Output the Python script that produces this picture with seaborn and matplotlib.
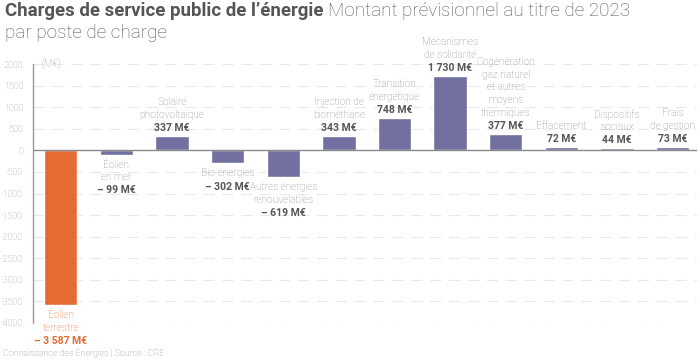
import pandas as pd
import seaborn as sns
import matplotlib.pyplot as plt

##############
#### DATA ####
##############

categories = ['Éolien\nterrestre', 'Éolien\nen mer', 'Solaire\nphotovoltaïque', 'Bio-énergies',
              'Autres énergies\nrenouvelables', 'Injection de\nbiométhane', 'Transition\nénergétique',
              'Mécanismes\nde solidarité', 'Cogénération\ngaz naturel\net autres\nmoyens\nthermiques',
              'Effacement', 'Dispositifs\nsociaux', 'Frais\nde gestion']
values = [-3587, -99, 337, -302, -619, 343, 748, 1730, 377, 72, 44, 73]
yticks = list(range(-4000, 2001, 500))

df = pd.DataFrame({'cat': categories, 'val': values})

ORANGE = '#E56B34'
PURPLE = '#7170A0'
colors = [ORANGE] + [PURPLE] * (len(categories) - 1)

###############
#### STYLE ####
###############

sns.set_theme(style='white')
plt.rcParams['font.family'] = ['Roboto', 'DejaVu Sans']

fig = plt.figure(figsize=(7, 3.62), dpi=100)
ax = fig.add_axes([33 / 700, 1 - 323 / 362, 664 / 700, 259 / 362])

sns.barplot(data=df, x='cat', y='val', hue='cat', palette=colors, legend=False,
            width=0.6, saturation=1, ax=ax, zorder=3)

ax.set_ylim(-4000, 2000)
ax.set_xlim(-0.5, 11.44)
ax.set_yticks(yticks)
ax.set_yticklabels([str(t) for t in yticks], color='#9a9a9a', fontsize=6.5, fontweight='light')
ax.tick_params(axis='y', length=0, pad=7)
ax.set_xticks([])
ax.set_xlabel('')
ax.set_ylabel('')
for t in yticks:
    if t != 0:
        ax.axhline(t, color='#e8e8e8', lw=0.8, ls=(0, (10, 7)), zorder=1)
ax.axhline(0, color='#8a8a8a', lw=1, zorder=4)
for s in ['top', 'right', 'bottom']:
    ax.spines[s].set_visible(False)
ax.spines['left'].set_color('#9a9a9a')
ax.spines['left'].set_linewidth(1)

ax.text(0.012, 2000, '(M€)', color='#9a9a9a', fontsize=7, fontweight='light',
        va='center', ha='left', transform=ax.get_yaxis_transform())

#####################
#### ANNOTATIONS ####
#####################

px = 0.72  # points per pixel
for i, (cat, v) in enumerate(zip(categories, values)):
    n = len(cat.split('\n'))
    num = f'{abs(v):,}'.replace(',', ' ') + ' M€'
    if v < 0:
        num = '– ' + num
    name_col = ORANGE if i == 0 else '#8a8a8a'
    num_col = ORANGE if i == 0 else '#555555'
    if v >= 0:
        ax.annotate(num, (i, v), xytext=(0, 3 * px), textcoords='offset points',
                    ha='center', va='bottom', fontsize=7.5, fontweight='bold', color=num_col)
        ax.annotate(cat, (i, v), xytext=(0, 16 * px), textcoords='offset points',
                    ha='center', va='bottom', fontsize=7.3, fontweight='light', color=name_col,
                    linespacing=1.35)
    else:
        ax.annotate(cat, (i, v), xytext=(0, -5 * px), textcoords='offset points',
                    ha='center', va='top', fontsize=7.3, fontweight='light', color=name_col,
                    linespacing=1.35)
        ax.annotate(num, (i, v), xytext=(0, -(6 + 12.3 * n) * px), textcoords='offset points',
                    ha='center', va='top', fontsize=7.5, fontweight='bold', color=num_col)

###############
#### TITLE ####
###############

t1 = fig.text(5 / 700, 1 - 11 / 362, 'Charges de service public de l’énergie', fontsize=13.4,
              fontweight='bold', color='#555555', va='center', ha='left')
fig.canvas.draw()
bb = t1.get_window_extent()
fig.text(bb.x1 / 700 + 5 / 700, 1 - 11 / 362, 'Montant prévisionnel au titre de 2023', fontsize=13.6,
         fontweight='light', color='#555555', va='center', ha='left')
fig.text(5 / 700, 1 - 33 / 362, 'par poste de charge', fontsize=13.6,
         fontweight='light', color='#555555', va='center', ha='left')

fig.text(3 / 700, 1 - 353 / 362, 'Connaissance des Énergies | Source : CRE', fontsize=6.5,
         fontweight='light', color='#8a8a8a', va='center', ha='left')

plt.savefig('out.png', dpi=100)
plt.close()
